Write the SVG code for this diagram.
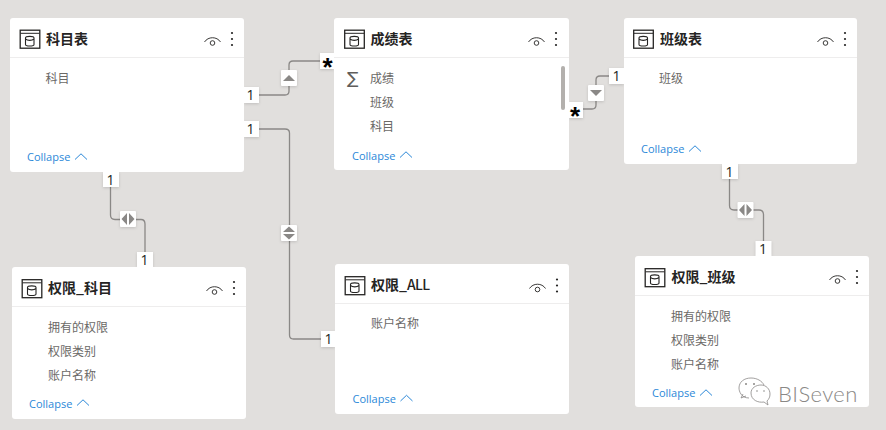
<svg xmlns="http://www.w3.org/2000/svg" xmlns:xlink="http://www.w3.org/1999/xlink" width="886" height="430" viewBox="0 0 886 430">
<style>
.card{fill:#fff}
.sep{stroke:#eeeded;stroke-width:1;fill:none}
.title{font:bold 14px "Noto Sans CJK SC","Noto Sans",sans-serif;fill:#252423}
.field{font:12px "Noto Sans CJK SC","Noto Sans",sans-serif;fill:#6b6967}
.coll{font:11px "Open Sans","Noto Sans",sans-serif;fill:#2b88d8}
.conn{fill:none;stroke:#8a8886;stroke-width:1.3}
.lab{fill:#fff;filter:drop-shadow(0 1px 1.5px rgba(0,0,0,.14))}
.one{font:14px "Open Sans","Noto Sans",sans-serif;fill:#201f1e;text-anchor:middle}
.star{font:bold 26px "Liberation Sans",sans-serif;fill:#000;text-anchor:middle}
.tri{fill:#8a8886}
</style>
<defs>
<g id="ico"><rect x="0.7" y="0.7" width="19.6" height="18" fill="none" stroke="#252423" stroke-width="1.3"/><path d="M1 3.800H20" stroke="#252423" stroke-width="1"/><path d="M6 8.500C6 6.300 14.500 6.300 14.500 8.500V15C14.500 17 6 17 6 15ZM6 9.500C8 11.300 12.500 11.300 14.500 9.500" fill="none" stroke="#252423" stroke-width="1.1"/></g>
<g id="more"><path d="M0.500 6.500C4 0.800 13 0.800 16.500 6.500" fill="none" stroke="#252423" stroke-width="0.9"/><circle cx="8.500" cy="7.500" r="2.300" fill="none" stroke="#252423" stroke-width="0.9"/><circle cx="28" cy="-2.500" r="1.100" fill="#252423"/><circle cx="28" cy="3.500" r="1.100" fill="#252423"/><circle cx="28" cy="9.500" r="1.100" fill="#252423"/></g>
<path id="chev" d="M0 6.500L6 0.800L12 6.500" fill="none" stroke="#2b88d8" stroke-width="1"/>
</defs>
<rect width="886" height="430" fill="#e1dfdd"/>
<g id="connectors">
<path class="conn" d="M259 95H285Q289 95 289 91V65Q289 61 293 61H320"/>
<path class="conn" d="M259 129H285Q289.500 129 289.500 133V335Q289.500 339 293.500 339H321"/>
<path class="conn" d="M583 109H592Q596 109 596 105V80Q596 76 600 76H609"/>
<path class="conn" d="M110.500 186V215Q110.500 219.500 115 219.500H141Q145 219.500 145 224V252"/>
<path class="conn" d="M729.500 179V205.500Q729.500 210 734 210H759Q763.500 210 763.500 214.500V241"/>
<rect class="lab" x="244" y="87" width="15" height="16"/><text class="one" x="250.500" y="100">1</text>
<rect class="lab" x="320" y="53" width="14" height="16"/><text class="star" x="327.500" y="76">*</text>
<rect class="lab" x="244" y="121" width="15" height="16"/><text class="one" x="250.500" y="134">1</text>
<rect class="lab" x="321" y="331" width="14" height="16"/><text class="one" x="328.500" y="344">1</text>
<rect class="lab" x="569" y="102" width="14" height="16"/><text class="star" x="575" y="125">*</text>
<rect class="lab" x="609" y="68" width="15" height="16"/><text class="one" x="616.500" y="81">1</text>
<rect class="lab" x="103" y="172" width="16" height="15"/><text class="one" x="110.500" y="185">1</text>
<rect class="lab" x="137" y="252" width="16" height="15"/><text class="one" x="144.500" y="265">1</text>
<rect class="lab" x="722" y="164" width="16" height="15"/><text class="one" x="729.500" y="177">1</text>
<rect class="lab" x="755.500" y="241" width="16" height="15"/><text class="one" x="763" y="254">1</text>
<rect class="lab" x="281" y="70" width="16" height="16" rx="1"/><path class="tri" d="M283 81L289 75L295 81Z"/>
<rect class="lab" x="588" y="85" width="16" height="16" rx="1"/><path class="tri" d="M590 90L596 96L602 90Z"/>
<rect class="lab" x="281" y="225" width="16" height="16" rx="1"/><path class="tri" d="M283 232L289 226.500L295 232ZM283 234L289 239.500L295 234Z"/>
<rect class="lab" x="120" y="211" width="16" height="16" rx="1"/><path class="tri" d="M127 213L121.500 219L127 225ZM129 213L134.500 219L129 225Z"/>
<rect class="lab" x="737.500" y="202" width="16" height="16" rx="1"/><path class="tri" d="M744.500 204L739 210L744.500 216ZM746.500 204L752 210L746.500 216Z"/>
</g>
<g id="node-kemu">
<rect class="card" x="10" y="18" width="234" height="154" rx="3"/><path class="sep" d="M10 57.500H244"/>
<use href="#ico" x="19.500" y="29.500"/><text class="title" x="46" y="44">科目表</text><use href="#more" x="204" y="35.500"/>
<text class="field" x="45.500" y="83">科目</text>
<text class="coll" x="27" y="161">Collapse</text><use href="#chev" x="75" y="153"/>
</g>
<g id="node-chengji">
<rect class="card" x="334" y="18" width="235" height="152" rx="3"/><path class="sep" d="M334 57.500H569"/>
<use href="#ico" x="344" y="29.500"/><text class="title" x="370.500" y="44">成绩表</text><use href="#more" x="528" y="35.500"/>
<text x="347" y="84" style="font:17px 'DejaVu Sans',sans-serif;fill:#605e5c">∑</text>
<text class="field" x="370" y="83">成绩</text><text class="field" x="370" y="107">班级</text><text class="field" x="370" y="131">科目</text>
<rect x="561" y="66" width="4" height="44" rx="2" fill="#b3b0ad"/>
<text class="coll" x="352" y="159.500">Collapse</text><use href="#chev" x="400" y="151"/>
</g>
<g id="node-banji">
<rect class="card" x="624" y="18" width="233" height="146" rx="3"/><path class="sep" d="M624 57.500H857"/>
<use href="#ico" x="633" y="29.500"/><text class="title" x="660" y="44">班级表</text><use href="#more" x="817" y="35.500"/>
<text class="field" x="659" y="83">班级</text>
<text class="coll" x="641" y="153">Collapse</text><use href="#chev" x="689" y="145"/>
</g>
<g id="node-quanxian-kemu">
<rect class="card" x="12" y="267" width="234" height="152" rx="3"/><path class="sep" d="M12 306.500H246"/>
<use href="#ico" x="21.500" y="279"/><text class="title" x="48" y="293">权限_科目</text><use href="#more" x="206" y="284.500"/>
<text class="field" x="48" y="332">拥有的权限</text><text class="field" x="48" y="356">权限类别</text><text class="field" x="48" y="380">账户名称</text>
<text class="coll" x="29" y="408">Collapse</text><use href="#chev" x="77" y="399"/>
</g>
<g id="node-quanxian-all">
<rect class="card" x="335" y="264" width="234" height="150" rx="3"/><path class="sep" d="M335 303.500H569"/>
<use href="#ico" x="344.500" y="276"/><text class="title" x="371" y="290">权限_<tspan font-weight="500" letter-spacing="-0.6">ALL</tspan></text><use href="#more" x="529" y="282"/>
<text class="field" x="371" y="328">账户名称</text>
<text class="coll" x="352.500" y="403">Collapse</text><use href="#chev" x="400.500" y="394.500"/>
</g>
<g id="node-quanxian-banji">
<rect class="card" x="635" y="256" width="234" height="151" rx="3"/><path class="sep" d="M635 295.500H869"/>
<use href="#ico" x="644.500" y="268"/><text class="title" x="671.500" y="282">权限_班级</text><use href="#more" x="829" y="273.500"/>
<text class="field" x="671" y="320.500">拥有的权限</text><text class="field" x="671" y="344.500">权限类别</text><text class="field" x="671" y="368.500">账户名称</text>
<text class="coll" x="652" y="397">Collapse</text><use href="#chev" x="700" y="389"/>
</g>
<g id="watermark">
<path d="M749 398C741 398 739 391 739 388C739 382 744 378 751 378C757 378 762 381 764 385M743 394L741 398L746 396" fill="none" stroke="#8a8886" stroke-width="0.8"/>
<path d="M764 402C758 403 751 400 751 393C751 388 756 385 761 385C766 385 770 389 770 394C770 397 769 399 767 401L768 405L764 402Z" fill="#fff" stroke="#8a8886" stroke-width="0.8"/>
<circle cx="746" cy="384" r="1" fill="#8a8886"/><circle cx="754" cy="384" r="1" fill="#8a8886"/><circle cx="757" cy="391" r="0.8" fill="#8a8886"/><circle cx="764" cy="391" r="0.8" fill="#8a8886"/>
<text x="778" y="402" style="font:300 22px Lato,'Noto Sans',sans-serif;fill:#8a8886;letter-spacing:.4px">BISeven</text>
</g>
</svg>
